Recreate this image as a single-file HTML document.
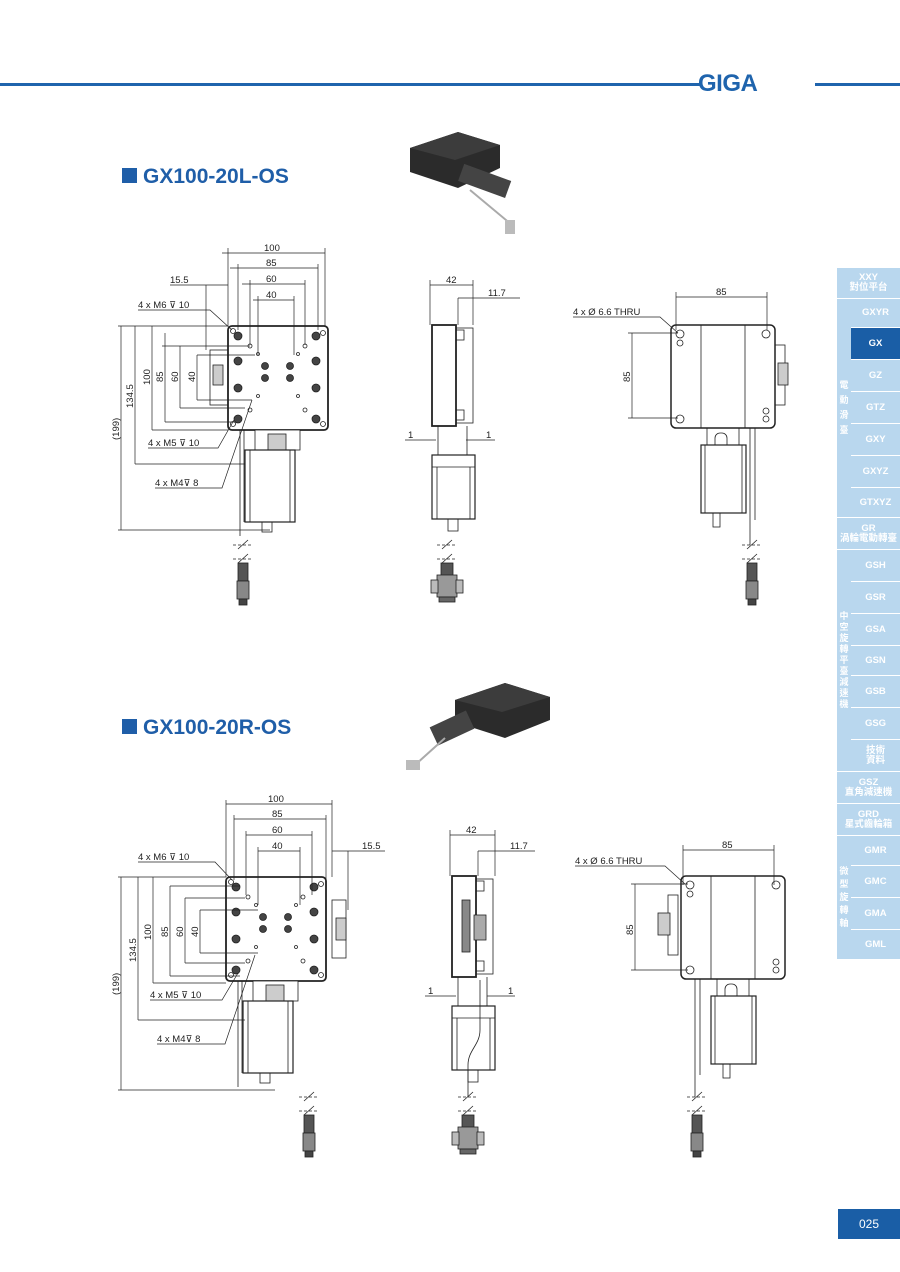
<!DOCTYPE html>
<html><head><meta charset="utf-8"><style>
body{margin:0;background:#fff;}
#p{position:relative;width:900px;height:1272px;overflow:hidden;font-family:"Liberation Sans","Noto Sans CJK TC",sans-serif;}
.sb{position:absolute;left:851px;width:49px;background:#b9d7ee;color:#fff;font-size:9.5px;font-weight:bold;display:flex;align-items:center;justify-content:center;text-align:center;line-height:10px;border-bottom:1px solid #fff;box-sizing:border-box}
.sw{left:837px;width:63px}
.sv{position:absolute;left:837px;width:14px;background:#b9d7ee;color:#fff;font-size:9px;font-weight:bold;display:flex;align-items:center;justify-content:center;text-align:center;line-height:15px;border-bottom:1px solid #fff;box-sizing:border-box}
</style></head><body><div id="p">
<div style="position:absolute;left:0;top:83px;width:700px;height:3px;background:#1f64ad"></div>
<div style="position:absolute;left:698px;top:70px;font-size:24px;font-weight:bold;color:#1f64ad;letter-spacing:-0.5px">GIGA</div>
<div style="position:absolute;left:815px;top:83px;width:85px;height:3px;background:#1f64ad"></div>

<div style="position:absolute;left:122px;top:165px;font-size:21px;font-weight:bold;color:#1f5ea8"><span style="display:inline-block;width:15px;height:15px;background:#1f5ea8;margin-right:6px"></span>GX100-20L-OS</div>
<div style="position:absolute;left:122px;top:716px;font-size:21px;font-weight:bold;color:#1f5ea8"><span style="display:inline-block;width:15px;height:15px;background:#1f5ea8;margin-right:6px"></span>GX100-20R-OS</div>

<div class="sb sw" style="top:268px;height:31px">XXY<br>對位平台</div>
<div class="sv" style="top:299px;height:219px">電<br>動<br>滑<br>臺</div>
<div class="sb" style="top:299px;height:29px">GXYR</div>
<div class="sb" style="top:328px;height:32px;background:#1a5ea6">GX</div>
<div class="sb" style="top:360px;height:32px">GZ</div>
<div class="sb" style="top:392px;height:32px">GTZ</div>
<div class="sb" style="top:424px;height:32px">GXY</div>
<div class="sb" style="top:456px;height:32px">GXYZ</div>
<div class="sb" style="top:488px;height:30px">GTXYZ</div>
<div class="sb sw" style="top:518px;height:32px">GR<br>渦輪電動轉臺</div>
<div class="sv" style="top:550px;height:222px;line-height:11px">中<br>空<br>旋<br>轉<br>平<br>臺<br>減<br>速<br>機</div>
<div class="sb" style="top:550px;height:32px">GSH</div>
<div class="sb" style="top:582px;height:32px">GSR</div>
<div class="sb" style="top:614px;height:32px">GSA</div>
<div class="sb" style="top:646px;height:30px">GSN</div>
<div class="sb" style="top:676px;height:32px">GSB</div>
<div class="sb" style="top:708px;height:32px">GSG</div>
<div class="sb" style="top:740px;height:32px">技術<br>資料</div>
<div class="sb sw" style="top:772px;height:32px">GSZ<br>直角減速機</div>
<div class="sb sw" style="top:804px;height:32px">GRD<br>星式齒輪箱</div>
<div class="sv" style="top:836px;height:124px;line-height:13px">微<br>型<br>旋<br>轉<br>軸</div>
<div class="sb" style="top:836px;height:30px">GMR</div>
<div class="sb" style="top:866px;height:32px">GMC</div>
<div class="sb" style="top:898px;height:32px">GMA</div>
<div class="sb" style="top:930px;height:30px">GML</div>

<div style="position:absolute;left:838px;top:1209px;width:62px;height:30px;background:#1a5ea6;color:#fff;font-size:12px;display:flex;align-items:center;justify-content:center">025</div>

<svg width="900" height="1272" style="position:absolute;left:0;top:0" font-family="Liberation Sans, sans-serif" font-size="9.5" fill="none" stroke="#222" stroke-width="0.8">
<defs>
 <g id="conn">
  <line x1="-10" y1="0" x2="10" y2="0" stroke-dasharray="3,2"/>
  <line x1="-10" y1="14" x2="10" y2="14" stroke-dasharray="3,2"/>
  <line x1="-5" y1="4" x2="5" y2="-5"/><line x1="-5" y1="18" x2="5" y2="9"/>
  <rect x="-5" y="18" width="10" height="18" fill="#555"/>
  <rect x="-6" y="36" width="12" height="18" fill="#888"/>
  <rect x="-4" y="54" width="8" height="6" fill="#444"/>
 </g>
 <g id="dsub">
  <line x1="-10" y1="0" x2="10" y2="0" stroke-dasharray="3,2"/>
  <line x1="-10" y1="14" x2="10" y2="14" stroke-dasharray="3,2"/>
  <line x1="-5" y1="4" x2="5" y2="-5"/><line x1="-5" y1="18" x2="5" y2="9"/>
  <rect x="-6" y="18" width="12" height="14" fill="#555"/>
  <rect x="-10" y="30" width="20" height="22" fill="#999"/>
  <rect x="-16" y="35" width="7" height="13" fill="#bbb"/><rect x="9" y="35" width="7" height="13" fill="#bbb"/>
  <rect x="-8" y="52" width="16" height="5" fill="#666"/>
 </g>
 <g id="top">
  <rect x="0" y="0" width="100" height="104" rx="4" stroke-width="1.8" fill="#fff"/>
  <g fill="#444"><circle cx="10" cy="10" r="4"/><circle cx="88" cy="10" r="4"/><circle cx="10" cy="93" r="4"/><circle cx="88" cy="93" r="4"/>
  <circle cx="10" cy="35" r="4"/><circle cx="88" cy="35" r="4"/><circle cx="10" cy="62" r="4"/><circle cx="88" cy="62" r="4"/>
  <circle cx="37" cy="40" r="3.5"/><circle cx="62" cy="40" r="3.5"/><circle cx="37" cy="52" r="3.5"/><circle cx="62" cy="52" r="3.5"/></g>
  <circle cx="5" cy="5" r="2.5"/><circle cx="95" cy="7" r="2.5"/><circle cx="5" cy="98" r="2.5"/><circle cx="95" cy="98" r="2.5"/>
  <circle cx="22" cy="20" r="2"/><circle cx="77" cy="20" r="2"/><circle cx="22" cy="84" r="2"/><circle cx="77" cy="84" r="2"/>
  <circle cx="30" cy="28" r="1.5"/><circle cx="70" cy="28" r="1.5"/><circle cx="30" cy="70" r="1.5"/><circle cx="70" cy="70" r="1.5"/>
  <rect x="27" y="104" width="45" height="20" fill="#fff"/>
  <rect x="40" y="108" width="18" height="16" fill="#ccc"/>
  <rect x="17" y="124" width="50" height="72" fill="#fff" stroke-width="1.2"/>
  <line x1="22" y1="124" x2="22" y2="196"/><line x1="62" y1="124" x2="62" y2="196"/>
  <rect x="34" y="196" width="10" height="10"/>
  <line x1="12" y1="104" x2="12" y2="210"/><line x1="16" y1="104" x2="16" y2="196"/>
 </g>
 <g id="side">
  <rect x="0" y="0" width="24" height="101" stroke-width="1.8" fill="#fff"/>
  <rect x="24" y="3" width="17" height="95"/>
  <rect x="24" y="5" width="8" height="10"/><rect x="24" y="85" width="8" height="10"/>
  <line x1="6" y1="101" x2="6" y2="130"/><line x1="35" y1="101" x2="35" y2="130"/>
  <rect x="0" y="130" width="43" height="64" fill="#fff" stroke-width="1.2"/>
  <line x1="0" y1="142" x2="43" y2="142"/><line x1="5" y1="142" x2="5" y2="194"/><line x1="38" y1="142" x2="38" y2="194"/>
  <rect x="16" y="194" width="10" height="12"/>
 </g>
 <g id="right">
  <rect x="0" y="0" width="104" height="103" rx="5" stroke-width="1.5" fill="#fff"/>
  <line x1="30" y1="0" x2="30" y2="103"/><line x1="74" y1="0" x2="74" y2="103"/>
  <circle cx="9" cy="9" r="4"/><circle cx="9" cy="18" r="3"/><circle cx="9" cy="94" r="4"/><circle cx="95" cy="9" r="4"/><circle cx="95" cy="86" r="3"/><circle cx="95" cy="94" r="3"/>
  <line x1="36" y1="103" x2="36" y2="120"/><line x1="68" y1="103" x2="68" y2="120"/>
  <rect x="44" y="108" width="12" height="20" rx="5"/>
  <rect x="30" y="120" width="45" height="68" fill="#fff" stroke-width="1.2"/>
  <line x1="34" y1="120" x2="34" y2="188"/><line x1="71" y1="120" x2="71" y2="188"/>
  <rect x="42" y="188" width="7" height="14"/>
 </g>
</defs>

<!-- photos -->
<g stroke="none">
 <polygon points="410,148 458,132 500,145 500,168 458,188 410,172" fill="#2b2b2b"/>
 <polygon points="410,148 458,132 500,145 455,160" fill="#3c3c3c"/>
 <rect x="460" y="172" width="50" height="18" fill="#444" transform="rotate(20 485 180)"/>
 <line x1="470" y1="190" x2="512" y2="225" stroke="#aaa" stroke-width="2"/>
 <rect x="505" y="220" width="10" height="14" fill="#bbb"/>
 <polygon points="455,700 505,683 550,697 550,720 505,738 455,722" fill="#2b2b2b"/>
 <polygon points="455,700 505,683 550,697 502,712" fill="#3c3c3c"/>
 <rect x="432" y="718" width="40" height="20" fill="#444" transform="rotate(-25 452 728)"/>
 <line x1="445" y1="738" x2="415" y2="765" stroke="#aaa" stroke-width="2"/>
 <rect x="406" y="760" width="14" height="10" fill="#bbb"/>
</g>

<!-- SET 1 -->
<use href="#top" x="228" y="326"/>
<g transform="translate(210,350)"><rect x="0" y="0" width="18" height="55"/><rect x="3" y="15" width="10" height="20" fill="#ccc"/></g>
<use href="#conn" x="243" y="545"/>
<use href="#side" x="432" y="325"/>
<use href="#dsub" x="447" y="545"/>
<use href="#right" x="671" y="325"/>
<g transform="translate(775,345)"><rect x="0" y="0" width="10" height="60"/><rect x="3" y="18" width="10" height="22" fill="#ccc"/></g>
<line x1="750" y1="428" x2="750" y2="545"/><line x1="755" y1="428" x2="755" y2="520"/>
<use href="#conn" x="752" y="545"/>

<g stroke-width="0.7">
 <line x1="222" y1="253" x2="325" y2="253"/><line x1="230" y1="268" x2="318" y2="268"/><line x1="242" y1="284" x2="305" y2="284"/><line x1="253" y1="300" x2="294" y2="300"/>
 <line x1="228" y1="248" x2="228" y2="326"/><line x1="325" y1="248" x2="325" y2="326"/><line x1="238" y1="264" x2="238" y2="330"/><line x1="318" y1="264" x2="318" y2="330"/>
 <line x1="250" y1="280" x2="250" y2="345"/><line x1="305" y1="280" x2="305" y2="345"/><line x1="258" y1="296" x2="258" y2="355"/><line x1="294" y1="296" x2="294" y2="355"/>
 <line x1="170" y1="285" x2="228" y2="285"/><line x1="206" y1="285" x2="206" y2="350"/>
 <line x1="118" y1="326" x2="228" y2="326"/><line x1="121" y1="326" x2="121" y2="530"/><line x1="135" y1="326" x2="135" y2="464"/><line x1="152" y1="326" x2="152" y2="430"/><line x1="165" y1="333" x2="165" y2="422"/><line x1="180" y1="346" x2="180" y2="408"/><line x1="197" y1="355" x2="197" y2="400"/>
 <line x1="118" y1="530" x2="270" y2="530"/><line x1="135" y1="464" x2="245" y2="464"/><line x1="152" y1="430" x2="228" y2="430"/><line x1="165" y1="422" x2="235" y2="422"/><line x1="180" y1="408" x2="245" y2="408"/><line x1="197" y1="400" x2="252" y2="400"/>
 <line x1="162" y1="346" x2="250" y2="346"/><line x1="197" y1="355" x2="255" y2="355"/>
 <polyline points="138,310 210,310 232,330"/><polyline points="148,448 218,448 234,420"/><polyline points="155,488 222,488 252,400"/>
 <line x1="430" y1="280" x2="430" y2="325"/><line x1="473" y1="280" x2="473" y2="325"/><line x1="430" y1="285" x2="473" y2="285"/>
 <line x1="458" y1="298" x2="520" y2="298"/><line x1="458" y1="298" x2="458" y2="325"/>
 <line x1="405" y1="440" x2="436" y2="440"/><line x1="466" y1="440" x2="495" y2="440"/>
 <line x1="676" y1="297" x2="767" y2="297"/><line x1="676" y1="292" x2="676" y2="330"/><line x1="767" y1="292" x2="767" y2="330"/>
 <polyline points="573,317 660,317 678,333"/>
 <line x1="632" y1="333" x2="632" y2="418"/><line x1="628" y1="333" x2="678" y2="333"/><line x1="628" y1="418" x2="678" y2="418"/>
</g>
<g fill="#222" stroke="none">
 <text x="264" y="251">100</text><text x="266" y="266">85</text><text x="266" y="282">60</text><text x="266" y="298">40</text>
 <text x="170" y="283">15.5</text><text x="138" y="308">4 x M6 ⊽ 10</text>
 <text x="148" y="446">4 x M5 ⊽ 10</text><text x="155" y="486">4 x M4⊽ 8</text>
 <text transform="translate(119,440) rotate(-90)">(199)</text><text transform="translate(133,408) rotate(-90)">134.5</text>
 <text transform="translate(150,385) rotate(-90)">100</text><text transform="translate(163,382) rotate(-90)">85</text><text transform="translate(178,382) rotate(-90)">60</text><text transform="translate(195,382) rotate(-90)">40</text>
 <text x="446" y="283">42</text><text x="488" y="296">11.7</text><text x="408" y="438">1</text><text x="486" y="438">1</text>
 <text x="716" y="295">85</text><text x="573" y="315">4 x Ø 6.6 THRU</text><text transform="translate(630,382) rotate(-90)">85</text>
</g>

<!-- SET 2 -->
<use href="#top" x="226" y="877"/>
<g transform="translate(332,900)"><rect x="0" y="0" width="14" height="58"/><rect x="4" y="18" width="10" height="22" fill="#ccc"/></g>
<use href="#conn" x="309" y="1097"/>
<use href="#side" x="452" y="876"/>
<g transform="translate(462,900)"><rect x="0" y="0" width="8" height="52" fill="#888"/><rect x="12" y="15" width="12" height="25" fill="#aaa"/></g>
<path d="M480,980 L480,1030 C480,1045 468,1050 468,1065 L468,1097" />
<use href="#dsub" x="468" y="1097"/>
<use href="#right" x="681" y="876"/>
<g transform="translate(658,895)"><rect x="10" y="0" width="10" height="60"/><rect x="0" y="18" width="12" height="22" fill="#ccc"/></g>
<line x1="695" y1="979" x2="695" y2="1097"/><line x1="700" y1="979" x2="700" y2="1075"/>
<use href="#conn" x="697" y="1097"/>

<g stroke-width="0.7">
 <line x1="226" y1="804" x2="332" y2="804"/><line x1="234" y1="819" x2="326" y2="819"/><line x1="246" y1="835" x2="312" y2="835"/><line x1="258" y1="851" x2="300" y2="851"/>
 <line x1="226" y1="800" x2="226" y2="877"/><line x1="332" y1="800" x2="332" y2="877"/><line x1="234" y1="815" x2="234" y2="880"/><line x1="326" y1="815" x2="326" y2="880"/>
 <line x1="246" y1="831" x2="246" y2="895"/><line x1="312" y1="831" x2="312" y2="895"/><line x1="258" y1="847" x2="258" y2="905"/><line x1="300" y1="847" x2="300" y2="905"/>
 <line x1="332" y1="851" x2="385" y2="851"/><line x1="348" y1="851" x2="348" y2="910"/>
 <line x1="118" y1="877" x2="226" y2="877"/><line x1="121" y1="877" x2="121" y2="1090"/><line x1="138" y1="877" x2="138" y2="1020"/><line x1="153" y1="877" x2="153" y2="983"/><line x1="170" y1="886" x2="170" y2="976"/><line x1="185" y1="898" x2="185" y2="963"/><line x1="200" y1="910" x2="200" y2="953"/>
 <line x1="118" y1="1090" x2="275" y2="1090"/><line x1="138" y1="1020" x2="245" y2="1020"/><line x1="153" y1="983" x2="226" y2="983"/><line x1="170" y1="976" x2="240" y2="976"/><line x1="185" y1="963" x2="245" y2="963"/><line x1="200" y1="953" x2="258" y2="953"/>
 <line x1="170" y1="886" x2="240" y2="886"/><line x1="185" y1="898" x2="245" y2="898"/><line x1="200" y1="910" x2="258" y2="910"/>
 <polyline points="138,862 215,862 232,880"/><polyline points="150,1000 222,1000 238,973"/><polyline points="157,1044 225,1044 255,955"/>
 <line x1="450" y1="830" x2="450" y2="876"/><line x1="495" y1="830" x2="495" y2="876"/><line x1="450" y1="835" x2="495" y2="835"/>
 <line x1="478" y1="851" x2="535" y2="851"/><line x1="478" y1="851" x2="478" y2="876"/>
 <line x1="425" y1="996" x2="456" y2="996"/><line x1="487" y1="996" x2="515" y2="996"/>
 <line x1="683" y1="850" x2="774" y2="850"/><line x1="683" y1="845" x2="683" y2="885"/><line x1="774" y1="845" x2="774" y2="885"/>
 <polyline points="575,866 665,866 685,884"/>
 <line x1="635" y1="884" x2="635" y2="970"/><line x1="631" y1="884" x2="688" y2="884"/><line x1="631" y1="970" x2="688" y2="970"/>
</g>
<g fill="#222" stroke="none">
 <text x="268" y="802">100</text><text x="272" y="817">85</text><text x="272" y="833">60</text><text x="272" y="849">40</text>
 <text x="362" y="849">15.5</text><text x="138" y="860">4 x M6 ⊽ 10</text>
 <text x="150" y="998">4 x M5 ⊽ 10</text><text x="157" y="1042">4 x M4⊽ 8</text>
 <text transform="translate(119,995) rotate(-90)">(199)</text><text transform="translate(136,962) rotate(-90)">134.5</text>
 <text transform="translate(151,940) rotate(-90)">100</text><text transform="translate(168,937) rotate(-90)">85</text><text transform="translate(183,937) rotate(-90)">60</text><text transform="translate(198,937) rotate(-90)">40</text>
 <text x="466" y="833">42</text><text x="510" y="849">11.7</text><text x="428" y="994">1</text><text x="508" y="994">1</text>
 <text x="722" y="848">85</text><text x="575" y="864">4 x Ø 6.6 THRU</text><text transform="translate(633,935) rotate(-90)">85</text>
</g>
</svg>
</div></body></html>
